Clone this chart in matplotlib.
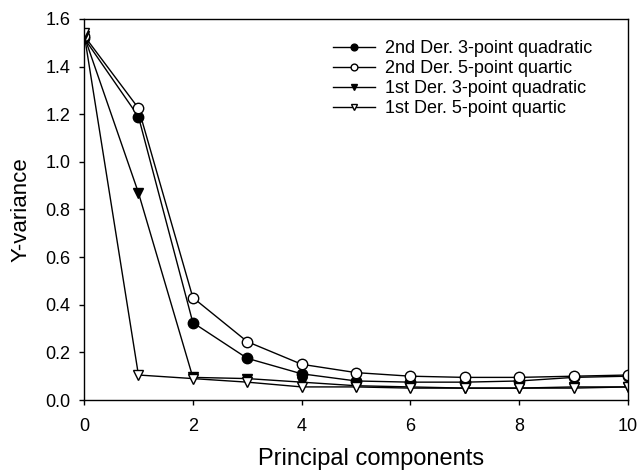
import matplotlib
matplotlib.use("Agg")
import matplotlib.pyplot as plt

plt.rcParams['font.family'] = ['Liberation Sans', 'DejaVu Sans']

pcs = [0, 1, 2, 3, 4, 5, 6, 7, 8, 9, 10]
d2_3q = [1.52, 1.19, 0.325, 0.175, 0.11, 0.08, 0.075, 0.075, 0.08, 0.095, 0.10]
d2_5q = [1.53, 1.225, 0.43, 0.245, 0.15, 0.115, 0.10, 0.095, 0.095, 0.10, 0.105]
d1_3q = [1.53, 0.87, 0.095, 0.09, 0.075, 0.06, 0.055, 0.05, 0.05, 0.055, 0.055]
d1_5q = [1.54, 0.105, 0.09, 0.075, 0.055, 0.055, 0.05, 0.05, 0.05, 0.05, 0.055]

labels = ["2nd Der. 3-point quadratic", "2nd Der. 5-point quartic",
          "1st Der. 3-point quadratic", "1st Der. 5-point quartic"]

fig = plt.figure(figsize=(6.39, 4.72), dpi=100)
ax = fig.add_axes([0.1315, 0.1525, 0.8515, 0.8075])

kw = dict(color='black', lw=1, markersize=7.5, markeredgecolor='black', markeredgewidth=1)
ax.plot(pcs, d2_3q, marker='o', markerfacecolor='black', label=labels[0], **kw)
ax.plot(pcs, d2_5q, marker='o', markerfacecolor='white', label=labels[1], **kw)
ax.plot(pcs, d1_3q, marker='v', markerfacecolor='black', label=labels[2], **kw)
ax.plot(pcs, d1_5q, marker='v', markerfacecolor='white', label=labels[3], **kw)

ax.set_xlim(0, 10)
ax.set_ylim(0, 1.6)
ax.set_xticks([0, 2, 4, 6, 8, 10])
ax.set_yticks([0.0, 0.2, 0.4, 0.6, 0.8, 1.0, 1.2, 1.4, 1.6])
ax.set_yticklabels(["0.0", "0.2", "0.4", "0.6", "0.8", "1.0", "1.2", "1.4", "1.6"])
ax.tick_params(direction='out', length=3.6, width=1, labelsize=13)
ax.tick_params(axis='x', pad=9)
ax.tick_params(axis='y', pad=6)
for s in ax.spines.values():
    s.set_linewidth(1)
ax.set_xlabel("Principal components", fontsize=17)
ax.xaxis.set_label_coords(0.528, -0.125)
ax.set_ylabel("Y-variance", fontsize=16, labelpad=10)

leg = ax.legend(loc='upper left', bbox_to_anchor=(0.458, 0.945), frameon=False,
                fontsize=13, markerscale=0.65, handlelength=2.3,
                labelspacing=0.17, handletextpad=0.55, borderpad=0, borderaxespad=0)

fig.savefig("out.png", dpi=100)
